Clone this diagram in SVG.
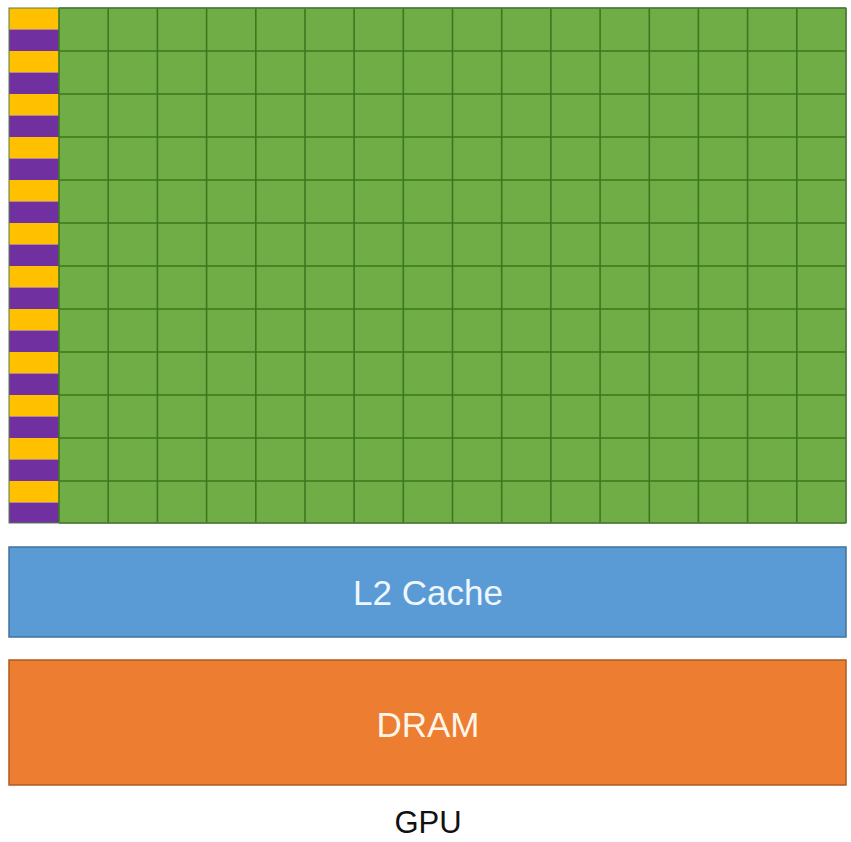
<svg xmlns="http://www.w3.org/2000/svg" width="851" height="842" viewBox="0 0 851 842">
<style>
.y{fill:#ffc000}
.p{fill:#7030a0}
.gl{stroke:#3a7a1e;stroke-width:1.6;fill:none}
.lbl{font-family:"Liberation Sans",Arial,sans-serif;text-anchor:middle}
</style>
<rect width="851" height="842" fill="#ffffff"/>
<g id="sm-grid">
<rect x="59" y="8" width="787" height="515" fill="#70ad47"/>
<g id="stripes">
<rect class="y" x="9" y="8" width="50" height="21.5"/><rect class="p" x="9" y="29.5" width="50" height="21.5"/>
<rect class="y" x="9" y="51" width="50" height="21.5"/><rect class="p" x="9" y="72.5" width="50" height="21.5"/>
<rect class="y" x="9" y="94" width="50" height="21.5"/><rect class="p" x="9" y="115.5" width="50" height="21.5"/>
<rect class="y" x="9" y="137" width="50" height="21.5"/><rect class="p" x="9" y="158.5" width="50" height="21.5"/>
<rect class="y" x="9" y="180" width="50" height="21.5"/><rect class="p" x="9" y="201.5" width="50" height="21.5"/>
<rect class="y" x="9" y="223" width="50" height="21.5"/><rect class="p" x="9" y="244.5" width="50" height="21.5"/>
<rect class="y" x="9" y="266" width="50" height="21.5"/><rect class="p" x="9" y="287.5" width="50" height="21.5"/>
<rect class="y" x="9" y="309" width="50" height="21.5"/><rect class="p" x="9" y="330.5" width="50" height="21.5"/>
<rect class="y" x="9" y="352" width="50" height="21.5"/><rect class="p" x="9" y="373.5" width="50" height="21.5"/>
<rect class="y" x="9" y="395" width="50" height="21.5"/><rect class="p" x="9" y="416.5" width="50" height="21.5"/>
<rect class="y" x="9" y="438" width="50" height="21.5"/><rect class="p" x="9" y="459.5" width="50" height="21.5"/>
<rect class="y" x="9" y="481" width="50" height="21.5"/><rect class="p" x="9" y="502.5" width="50" height="20.5"/>
</g>
<path class="gl" d="M59 8V523M108.2 8V523M157.4 8V523M206.6 8V523M255.8 8V523M305 8V523M354.1 8V523M403.3 8V523M452.5 8V523M501.7 8V523M550.9 8V523M600.1 8V523M649.3 8V523M698.4 8V523M747.6 8V523M796.8 8V523M846 8V523"/>
<path class="gl" d="M59 8H846M59 51H846M59 94H846M59 137H846M59 180H846M59 223H846M59 266H846M59 309H846M59 352H846M59 395H846M59 438H846M59 481H846M59 523H846"/>
<rect x="9" y="8" width="837" height="515" fill="none" stroke="#5a7a50" stroke-width="1"/>
</g>
<g id="l2-cache">
<rect x="9" y="547" width="837" height="90" fill="#5b9bd5" stroke="#41719c" stroke-width="1.5"/>
<text class="lbl" x="428" y="605" font-size="35" fill="#eef7ff">L2 Cache</text>
</g>
<g id="dram">
<rect x="9" y="660" width="837" height="125" fill="#ed7d31" stroke="#ae5a21" stroke-width="1.5"/>
<text class="lbl" x="428" y="737" font-size="35" fill="#fff6ea">DRAM</text>
</g>
<g id="gpu-label">
<text class="lbl" x="428" y="833" font-size="31" fill="#111111">GPU</text>
</g>
</svg>
